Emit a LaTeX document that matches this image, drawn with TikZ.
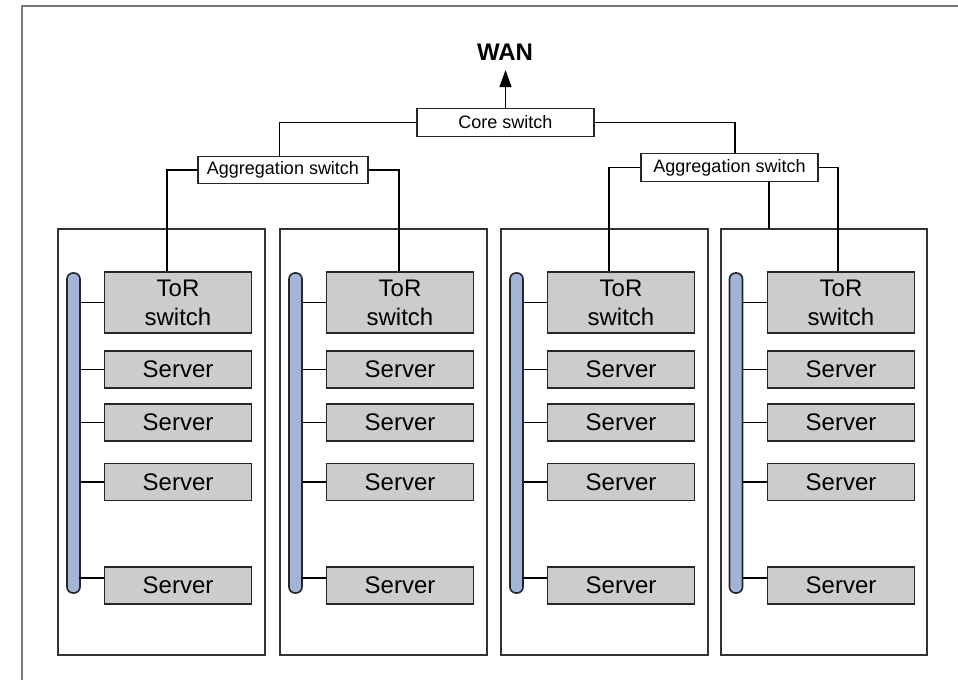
\documentclass[tikz,border=0pt]{standalone}
\usepackage{fontspec}
\setmainfont{Liberation Sans}
\usetikzlibrary{arrows.meta}
\definecolor{boxgray}{RGB}{204,204,204}
\definecolor{busblue}{RGB}{164,180,216}
\definecolor{framegray}{RGB}{120,120,120}

\begin{document}
\begin{tikzpicture}[x=1pt,y=-1pt,
  rack/.style={draw=black!80,line width=1.4pt,minimum height=426pt,inner sep=0pt},
  bus/.style={draw=black!85,fill=busblue,line width=1.6pt,rounded corners=6pt,minimum width=13pt,minimum height=320pt,inner sep=0pt},
  torbox/.style={draw=black!85,fill=boxgray,line width=1.4pt,minimum width=147pt,minimum height=61pt,inner sep=0pt,align=center,font=\fontsize{24}{29}\selectfont},
  srvbox/.style={draw=black!85,fill=boxgray,line width=1.4pt,minimum width=147pt,minimum height=37pt,inner sep=0pt,font=\fontsize{24}{29}\selectfont},
  swbox/.style={draw=black!85,fill=white,line width=1.4pt,minimum height=28pt,inner sep=0pt,font=\fontsize{18}{22}\selectfont},
  link/.style={black,line width=1.2pt}]
\useasboundingbox (0,0) rectangle (958,680);
%\draw[step=50,gray!30,very thin] (0,0) grid (958,680); %background grid

\draw[framegray,line width=1.5pt] (958,6) -- (22,6) -- (22,680);

% top
\node[font=\fontsize{24}{28}\selectfont\bfseries] (wan) at (505,52) {WAN};
\coordinate (wantip) at (505.5,70);
\node[swbox,minimum width=177pt] (core) at (505.5,122.5) {Core switch};
\node[swbox,minimum width=170pt,minimum height=27pt] (agg1) at (283,170) {Aggregation switch};
\node[swbox,minimum width=177pt] (agg2) at (729.5,167.5) {Aggregation switch};

% racks
\node[rack,minimum width=207pt] (rack1) at (161.5,442) {};
\node[rack,minimum width=207pt] (rack2) at (383.5,442) {};
\node[rack,minimum width=207pt] (rack3) at (604.5,442) {};
\node[rack,minimum width=206pt] (rack4) at (824,442) {};

\node[bus] (bus1) at (73.5,433) {};
\node[bus] (bus2) at (295.5,433) {};
\node[bus] (bus3) at (516.5,433) {};
\node[bus] (bus4) at (736,433) {};

% rack 1
\node[torbox] (tor1) at (178,302.5) {ToR\\switch};
\node[srvbox] (srv1a) at (178,369.5) {Server};
\node[srvbox] (srv1b) at (178,422.5) {Server};
\node[srvbox] (srv1c) at (178,482) {Server};
\node[srvbox] (srv1d) at (178,585.5) {Server};

% rack 2
\node[torbox] (tor2) at (400,302.5) {ToR\\switch};
\node[srvbox] (srv2a) at (400,369.5) {Server};
\node[srvbox] (srv2b) at (400,422.5) {Server};
\node[srvbox] (srv2c) at (400,482) {Server};
\node[srvbox] (srv2d) at (400,585.5) {Server};

% rack 3
\node[torbox] (tor3) at (621,302.5) {ToR\\switch};
\node[srvbox] (srv3a) at (621,369.5) {Server};
\node[srvbox] (srv3b) at (621,422.5) {Server};
\node[srvbox] (srv3c) at (621,482) {Server};
\node[srvbox] (srv3d) at (621,585.5) {Server};

% rack 4
\node[torbox] (tor4) at (841,302.5) {ToR\\switch};
\node[srvbox] (srv4a) at (841,369.5) {Server};
\node[srvbox] (srv4b) at (841,422.5) {Server};
\node[srvbox] (srv4c) at (841,482) {Server};
\node[srvbox] (srv4d) at (841,585.5) {Server};

% uplinks
\draw[link,-{Triangle[length=17pt,width=12pt]}] (core.north) -- (wantip);
\draw[link] (core.west) -| ([xshift=-3.5pt]agg1.north);
\draw[link] (core.east) -| ([xshift=5.5pt]agg2.north);

\draw[link] (agg1.west) -| ([xshift=-11pt]tor1.north);
\draw[link] (agg1.east) -| ([xshift=-1pt]tor2.north);
\draw[link] (agg2.west) -| ([xshift=-12pt]tor3.north);
\draw[link] (agg2.east) -| ([xshift=-3pt]tor4.north);
\coordinate (drop4) at (769,229);
\draw[link] ([xshift=39.5pt]agg2.south) -- (drop4);

% bus links
\draw[link] (bus1.east |- tor1.west) -- (tor1.west);
\draw[link] (bus1.east |- srv1a.west) -- (srv1a.west);
\draw[link] (bus1.east |- srv1b.west) -- (srv1b.west);
\draw[link] (bus1.east |- srv1c.west) -- (srv1c.west);
\draw[link] ([yshift=7.5pt]srv1d.west) -- ++(-25,0);

\draw[link] (bus2.east |- tor2.west) -- (tor2.west);
\draw[link] (bus2.east |- srv2a.west) -- (srv2a.west);
\draw[link] (bus2.east |- srv2b.west) -- (srv2b.west);
\draw[link] (bus2.east |- srv2c.west) -- (srv2c.west);
\draw[link] ([yshift=7.5pt]srv2d.west) -- ++(-25,0);

\draw[link] (bus3.east |- tor3.west) -- (tor3.west);
\draw[link] (bus3.east |- srv3a.west) -- (srv3a.west);
\draw[link] (bus3.east |- srv3b.west) -- (srv3b.west);
\draw[link] (bus3.east |- srv3c.west) -- (srv3c.west);
\draw[link] ([yshift=7.5pt]srv3d.west) -- ++(-25,0);

\draw[link] (bus4.east |- tor4.west) -- (tor4.west);
\draw[link] (bus4.east |- srv4a.west) -- (srv4a.west);
\draw[link] (bus4.east |- srv4b.west) -- (srv4b.west);
\draw[link] (bus4.east |- srv4c.west) -- (srv4c.west);
\draw[link] ([yshift=7.5pt]srv4d.west) -- ++(-24,0);

\end{tikzpicture}
\end{document}
